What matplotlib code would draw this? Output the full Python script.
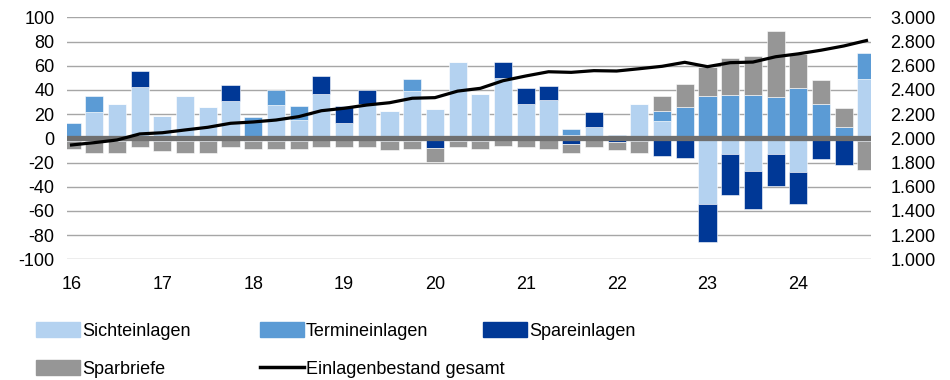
import matplotlib
matplotlib.use("Agg")
import matplotlib.pyplot as plt
import numpy as np
from matplotlib.patches import Patch
from matplotlib.lines import Line2D
from matplotlib.ticker import FuncFormatter, MultipleLocator

plt.rcParams['font.family'] = ['Liberation Sans', 'DejaVu Sans']

# Quartale 2016 Q1 bis 2024 Q4
quartale = [f"{j}Q{q}" for j in range(16, 25) for q in range(1, 5)]
jahre = ['16', '17', '18', '19', '20', '21', '22', '23', '24']

# Veraenderung je Quartal (Mrd. EUR), linke Achse
sichteinlagen = [0, 22.0, 28.3, 42.1, 18.7, 35.0, 25.8, 31.1, 0, 27.5, 15.1, 36.6,
                 12.4, 28.3, 22.5, 39.3, 24.2, 63.3, 36.6, 50.1, 28.0, 31.4, 3.0, 9.6,
                 0, 28.3, 14.6, 0, -54.6, -13.0, -27.1, -13.3, -28.2, 0, 0, 48.7]
termineinlagen = [12.4, 13.0, 0, 0, 0, 0, 0, 0, 17.4, 12.4, 11.6, 0,
                  0, 0, 0, 9.4, 0, 0, 0, 0, 0, 0, 4.7, 0,
                  3.0, 0, 8.0, 26.2, 35.0, 35.8, 35.8, 33.8, 41.3, 28.3, 9.0, 22.0]
spareinlagen = [-2.5, -2.5, -2.5, 13.5, -2.0, -2.0, -2.5, 12.9, -2.5, -2.5, -2.5, 14.9,
                14.5, 11.6, -2.5, -2.5, -8.0, -2.0, -2.5, 12.6, 13.3, 11.8, -5.0, 12.4,
                -3.0, -2.5, -14.7, -16.0, -30.9, -33.9, -31.4, -26.2, -25.9, -17.4, -21.8, -2.5]
sparbriefe = [-6.6, -9.4, -9.4, -6.9, -8.2, -9.9, -9.4, -6.9, -6.6, -6.6, -6.6, -6.9,
              -6.9, -6.9, -7.2, -6.6, -11.3, -5.0, -6.6, -6.3, -6.9, -8.8, -6.9, -6.9,
              -7.0, -9.4, 12.4, 18.8, 24.2, 30.3, 31.9, 54.8, 28.1, 19.9, 15.8, -23.7]

# Einlagenbestand gesamt (Mrd. EUR), rechte Achse
bestand = [1945, 1964, 1986, 2036, 2046, 2069, 2091, 2124, 2135, 2151, 2179, 2228,
           2248, 2275, 2294, 2331, 2336, 2390, 2413, 2476, 2515, 2550, 2545, 2559,
           2556, 2575, 2595, 2628, 2592, 2625, 2630, 2674, 2698, 2728, 2763, 2808]

reihen = [
    ('Sichteinlagen', sichteinlagen, '#b4d2f0'),
    ('Termineinlagen', termineinlagen, '#5b9bd5'),
    ('Spareinlagen', spareinlagen, '#003896'),
    ('Sparbriefe', sparbriefe, '#969696'),
]

x = np.arange(len(quartale))

fig = plt.figure(figsize=(9.5, 3.8), dpi=100)
ax = fig.add_axes([67 / 950, 1 - 259.3 / 380, 804 / 950, 242 / 380])

# gestapelte Saeulen: positive nach oben, negative nach unten
pos_base = np.zeros(len(x))
neg_base = np.zeros(len(x))
for name, werte, farbe in reihen:
    w = np.array(werte, dtype=float)
    base = np.where(w >= 0, pos_base, neg_base)
    ax.bar(x, w, bottom=base, width=0.8, color=farbe, zorder=2,
           edgecolor='white', linewidth=0.4)
    pos_base += np.where(w >= 0, w, 0)
    neg_base += np.where(w < 0, w, 0)

ax.axhline(0, color='#6f6f6f', linewidth=3.8, zorder=3)

ax.set_xlim(-0.2, len(x) - 0.8)
ax.set_ylim(-100, 100)
ax.yaxis.set_major_locator(MultipleLocator(20))
ax.yaxis.set_major_formatter(FuncFormatter(lambda v, p: f"{int(round(v))}"))
ax.grid(axis='y', color='#a6a6a6', linewidth=1.0, zorder=0)
ax.set_axisbelow(True)
ax.set_xticks(x[::4])
ax.set_xticklabels(jahre)
ax.tick_params(axis='x', length=0, pad=12, labelsize=13)
ax.tick_params(axis='y', length=0, pad=9, labelsize=13)
for s in ax.spines.values():
    s.set_visible(False)

ax2 = ax.twinx()
ax2.plot(x, bestand, color='black', linewidth=2.3, zorder=5)
ax2.set_ylim(1000, 3000)
ax2.yaxis.set_major_locator(MultipleLocator(200))
ax2.yaxis.set_major_formatter(FuncFormatter(lambda v, p: f"{int(v):,}".replace(',', '.')))
ax2.tick_params(axis='y', length=0, pad=14, labelsize=13)
for s in ax2.spines.values():
    s.set_visible(False)

# Legende in drei Spalten
leg_kw = dict(frameon=False, fontsize=13, borderpad=0, borderaxespad=0,
              handlelength=2.45, handleheight=0.9, handletextpad=0.1,
              labelspacing=1.15, loc='upper left')
spalten = [
    ([Patch(color='#b4d2f0'), Patch(color='#969696')], ['Sichteinlagen', 'Sparbriefe'], 36),
    ([Patch(color='#5b9bd5'), Line2D([], [], color='black', linewidth=2.5)],
     ['Termineinlagen', 'Einlagenbestand gesamt'], 260),
    ([Patch(color='#003896')], ['Spareinlagen'], 483),
]
for handles, labels, xpos in spalten:
    fig.legend(handles, labels, bbox_to_anchor=(xpos / 950, 1 - 322 / 380), **leg_kw)

fig.savefig('out.png', dpi=100)
